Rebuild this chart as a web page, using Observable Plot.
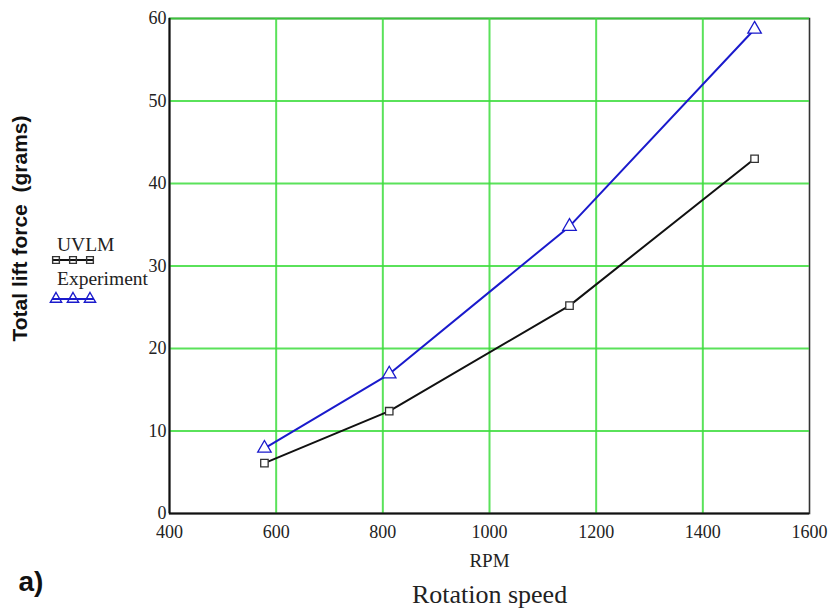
<!DOCTYPE html>
<html><head><meta charset="utf-8">
<script src="https://cdn.jsdelivr.net/npm/d3@7"></script>
<script src="https://cdn.jsdelivr.net/npm/@observablehq/plot@0.6"></script>
<style>
body{margin:0;background:#fff}
#wrap{position:relative;width:837px;height:616px;overflow:hidden}
#wrap svg{position:absolute;left:0;top:0}
</style>
</head><body><div id="wrap"></div>
<script>
const rpm = [578, 812, 1150, 1497];
const uvlm = [6.1, 12.4, 25.2, 43.0];
const experiment = [7.9, 16.9, 34.8, 58.7];
const xTicks = [400, 600, 800, 1000, 1200, 1400, 1600];
const yTicks = [0, 10, 20, 30, 40, 50, 60];
const xGrid = [600, 800, 1000, 1200, 1400];
const yGrid = [10, 20, 30, 40, 50, 60];
const seriesNames = ["UVLM", "Experiment"];
const seriesColors = ["#111111", "#1a1acc"];

const dataU = rpm.map((x, i) => ({x, y: uvlm[i]}));
const dataE = rpm.map((x, i) => ({x, y: experiment[i]}));

const serif = "'Liberation Serif','Times New Roman',serif";
const sans = "'Liberation Sans',Arial,sans-serif";

const chart = Plot.plot({
  width: 837,
  height: 616,
  marginLeft: 169,
  marginRight: 28,
  marginTop: 18,
  marginBottom: 103,
  style: {fontFamily: serif, fontSize: "18px", color: "#222", background: "#fff"},
  x: {domain: [400, 1600], label: null},
  y: {domain: [0, 60], label: null},
  marks: [
    Plot.frame({stroke: "#333", strokeWidth: 1.6}),
    Plot.ruleX(xGrid, {stroke: "#3ddd3d", strokeWidth: 2, strokeOpacity: 0.85}),
    Plot.ruleY(yGrid, {stroke: "#3ddd3d", strokeWidth: 2, strokeOpacity: 0.85}),
    Plot.ruleX([400], {stroke: "#111", strokeWidth: 2}),
    Plot.ruleY([0], {stroke: "#111", strokeWidth: 2}),
    Plot.line(dataU, {x: "x", y: "y", stroke: seriesColors[0], strokeWidth: 2}),
    Plot.line(dataE, {x: "x", y: "y", stroke: seriesColors[1], strokeWidth: 2}),
    Plot.dot(dataU, {x: "x", y: "y", symbol: "square", r: 4.2, stroke: "#333", fill: "white", strokeWidth: 1.3}),
    Plot.dot(dataE, {x: "x", y: "y", symbol: "triangle", r: 5, stroke: seriesColors[1], fill: "white", strokeWidth: 1.3}),
    Plot.axisX({ticks: xTicks, tickFormat: d3.format("d"), tickSize: 0, tickPadding: 12, fontSize: 18, label: null, fill: "#222"}),
    Plot.axisY({ticks: yTicks, tickFormat: d3.format("d"), tickSize: 0, tickPadding: 3, fontSize: 18, label: null, fill: "#222"}),
    Plot.text(["RPM"], {frameAnchor: "bottom", textAnchor: "middle", lineAnchor: "middle", dy: 47.5, fontSize: 19, fontFamily: serif, fill: "#222"}),
    Plot.text(["Rotation speed"], {frameAnchor: "bottom", textAnchor: "middle", lineAnchor: "middle", dy: 81, fontSize: 26, fontFamily: serif, fill: "#222"}),
    Plot.text(["a)"], {frameAnchor: "bottom-left", textAnchor: "start", lineAnchor: "middle", dx: -151, dy: 69, fontSize: 28, fontWeight: "bold", fontFamily: sans, fill: "#111"}),
    Plot.text(["Total lift force\u00a0\u00a0(grams)"], {frameAnchor: "left", textAnchor: "middle", lineAnchor: "middle", dx: -149, dy: -37.5, rotate: -90, fontSize: 21, fontWeight: "bold", fontFamily: sans, fill: "#111"})
  ]
});
document.getElementById("wrap").appendChild(chart);

// legend (outside the plot, left)
const leg = d3.select("#wrap").append("svg").attr("width", 837).attr("height", 616)
  .style("pointer-events", "none");
const rows = [
  {name: seriesNames[0], color: seriesColors[0], mark: "#333", sym: d3.symbolSquare, ty: 251, ly: 260},
  {name: seriesNames[1], color: seriesColors[1], mark: seriesColors[1], sym: d3.symbolTriangle, ty: 285, ly: 299}
];
rows.forEach(r => {
  leg.append("text").attr("x", 57).attr("y", r.ty)
    .attr("font-family", serif).attr("font-size", 19.5).attr("fill", "#222").text(r.name);
  leg.append("line").attr("x1", 52).attr("x2", 94).attr("y1", r.ly).attr("y2", r.ly)
    .attr("stroke", r.color).attr("stroke-width", 2);
  [56, 73, 90].forEach(cx => {
    leg.append("path").attr("d", d3.symbol(r.sym, r.sym === d3.symbolSquare ? 45 : 55)())
      .attr("transform", `translate(${cx},${r.ly})`)
      .attr("fill", "none").attr("stroke", r.mark).attr("stroke-width", 1.4);
  });
});
</script>
</body></html>
